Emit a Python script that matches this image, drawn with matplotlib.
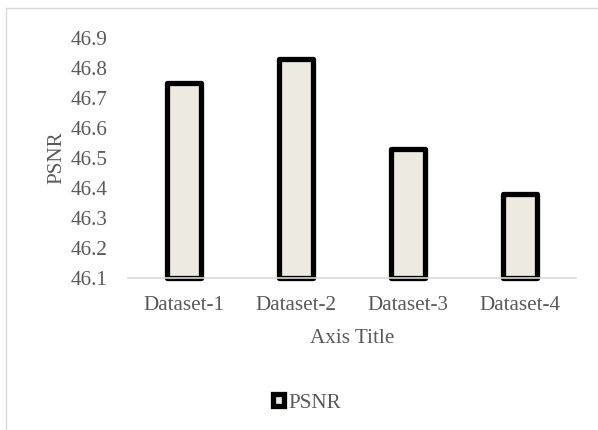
import matplotlib
matplotlib.use("Agg")
import matplotlib.pyplot as plt
from matplotlib.patches import Rectangle
from matplotlib.lines import Line2D

categories = ["Dataset-1", "Dataset-2", "Dataset-3", "Dataset-4"]
psnr = [46.75, 46.83, 46.53, 46.38]
yticks = [46.1, 46.2, 46.3, 46.4, 46.5, 46.6, 46.7, 46.8, 46.9]

text_color = "#595959"
fill_color = "#EDEBE0"
fs = 15.2
plt.rcParams["font.family"] = ["Liberation Serif", "DejaVu Serif"]

W, H = 598, 430
fig = plt.figure(figsize=(W / 100, H / 100), dpi=100)

# chart area border (open to the right and bottom)
fig.add_artist(Line2D([6 / W, 1], [1 - 8 / H, 1 - 8 / H], transform=fig.transFigure,
                      color="#D9D9D9", lw=1))
fig.add_artist(Line2D([6 / W, 6 / W], [0, 1 - 8 / H], transform=fig.transFigure,
                      color="#D9D9D9", lw=1))

left, right = 128 / W, 576 / W
bottom, top = (H - 278) / H, (H - 38) / H
ax = fig.add_axes([left, bottom, right - left, top - bottom])

x = range(len(categories))
base = yticks[0]
bars = ax.bar(x, [v - base for v in psnr], bottom=base, width=0.31,
              color=fill_color, edgecolor="black", linewidth=3.8,
              joinstyle="round", label="PSNR", zorder=2)
for b in bars:
    b.set_clip_on(False)

ax.set_xlim(-0.5, len(categories) - 0.5)
ax.set_ylim(yticks[0], yticks[-1])
ax.set_yticks(yticks)
ax.set_yticklabels([f"{t:.1f}" for t in yticks])
ax.set_xticks(list(x))
ax.set_xticklabels(categories)

for s in ["top", "right", "left"]:
    ax.spines[s].set_visible(False)
ax.spines["bottom"].set_color("#D9D9D9")
ax.spines["bottom"].set_linewidth(1.2)
ax.spines["bottom"].set_zorder(3)
ax.tick_params(axis="both", length=0, colors=text_color, labelsize=fs)
ax.tick_params(axis="y", pad=14.5)
ax.tick_params(axis="x", pad=13)

ax.set_ylabel("PSNR", color=text_color, fontsize=fs, labelpad=3)
ax.set_xlabel("Axis Title", color=text_color, fontsize=fs, labelpad=10)

handle = Rectangle((0, 0), 1, 1, facecolor=fill_color, edgecolor="black",
                   linewidth=3.8, joinstyle="round")
leg = fig.legend([handle], ["PSNR"], loc="center", bbox_to_anchor=(307 / W, 1 - 403 / H),
                 frameon=False, fontsize=fs, handlelength=0.5, handleheight=0.5,
                 handletextpad=0.2, labelcolor=text_color)

fig.savefig("out.png", dpi=100)
